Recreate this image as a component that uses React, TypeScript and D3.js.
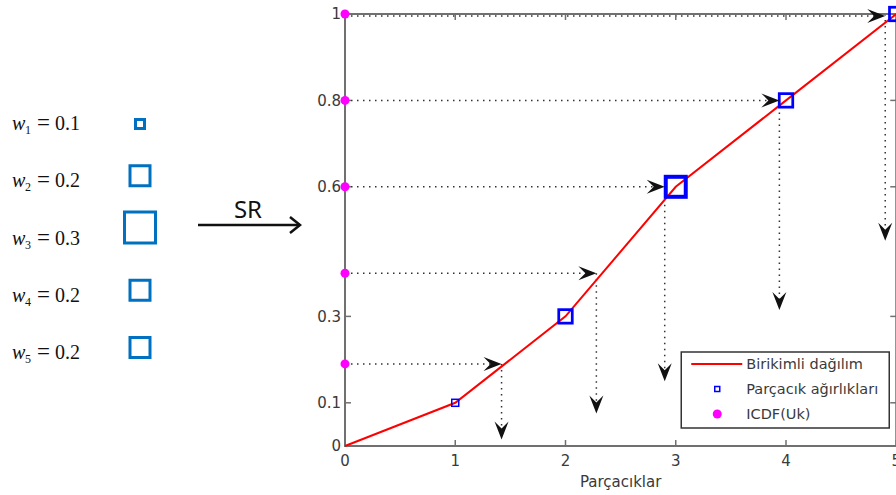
import React from "react";
import * as d3 from "d3";

// particle weights (left panel) and cumulative distribution
const weights = [0.1, 0.2, 0.3, 0.2, 0.2];
const weightLabels = ["0.1", "0.2", "0.3", "0.2", "0.2"];
const particles = [0, 1, 2, 3, 4, 5];
const cumulative = [0, 0.1, 0.3, 0.6, 0.8, 1];
// ICDF(Uk) samples and where their arrows drop
const icdf = [0.19, 0.4, 0.6, 0.8, 1];
const dropX = [1.42, 2.28, 2.9, 3.94, 4.9];
const dropEnd = [0.015, 0.075, 0.15, 0.315, 0.475];
const xTicks = [0, 1, 2, 3, 4, 5];
const yTicks = [0, 0.1, 0.3, 0.6, 0.8, 1];
const legendItems = ["Birikimli dağılım", "Parçacık ağırlıkları", "ICDF(Uk)"];
const xLabel = "Parçacıklar";
const arrowLabel = "SR";

const W = 896;
const H = 495;
const font = "'DejaVu Sans', sans-serif";
const txt = "#3a3a3a";

// MATLAB-like "vback2" arrow head
const arrowHead = (tx: number, ty: number, dx: number, dy: number) => {
  const L = 18, hw = 7, N = 11;
  const nx = -dy, ny = dx;
  const p = [
    [tx, ty],
    [tx - L * dx + hw * nx, ty - L * dy + hw * ny],
    [tx - N * dx, ty - N * dy],
    [tx - L * dx - hw * nx, ty - L * dy - hw * ny],
  ];
  return "M" + p.map((q) => q.join(",")).join("L") + "Z";
};

export default function App() {
  const x = d3.scaleLinear().domain([0, 5]).range([345, 896.25]);
  const y = d3.scaleLinear().domain([0, 1]).range([446, 14]);
  const mSize = d3.scaleLinear().domain([0.1, 0.3]).range([7, 20]);
  const mStroke = d3.scaleLinear().domain([0.1, 0.3]).range([1.5, 4]);
  const lSize = d3.scaleLinear().domain([0.1, 0.3]).range([9, 31]);
  const rows = d3.scalePoint<number>().domain(d3.range(weights.length)).range([130, 359]);

  const line = d3
    .line<number>()
    .x((_, i) => x(particles[i]))
    .y((d) => y(d));

  const left = x(0), right = x(5), top = y(1), bottom = y(0);
  const tick = 6;
  const lgW = 208, lgH = 76;
  const lgX = right - 7 - lgW, lgY = bottom - 18 - lgH;

  return (
    <svg
      width={W}
      height={H}
      style={{ position: "absolute", left: 0, top: 0, background: "#fff" }}
    >
      {/* left panel: weights */}
      {weights.map((w, i) => {
        const by = rows(i)!;
        const s = lSize(w);
        return (
          <g key={"w" + i}>
            <text y={by} fontFamily="'Liberation Serif', serif" fontSize={20} fill="#111">
              <tspan x={12} fontStyle="italic">w</tspan>
              <tspan x={25} dy={4} fontSize={12}>{i + 1}</tspan>
              <tspan x={37} dy={-4} fontSize={23}>=</tspan>
              <tspan x={55}>{weightLabels[i]}</tspan>
            </text>
            <rect
              x={140 - s / 2}
              y={by - 1.5 - s}
              width={s}
              height={s}
              fill="none"
              stroke="#0070C0"
              strokeWidth={3}
            />
          </g>
        );
      })}

      {/* SR arrow */}
      <text x={248} y={218} textAnchor="middle" fontFamily="'Noto Sans', sans-serif" fontSize={24} fill="#111">
        {arrowLabel}
      </text>
      <line x1={198} y1={225} x2={300} y2={225} stroke="#111" strokeWidth={2.5} />
      <path d="M290,217 L300,225 L290,233" fill="none" stroke="#111" strokeWidth={2.5} />

      {/* dotted guides */}
      {icdf.map((u, i) => (
        <g key={"g" + i}>
          <line
            x1={left}
            y1={y(u) + (i === icdf.length - 1 ? 2 : 0)}
            x2={x(dropX[i]) - 11}
            y2={y(u) + (i === icdf.length - 1 ? 2 : 0)}
            stroke="#333"
            strokeWidth={1.5}
            strokeDasharray="1.5 4.5"
          />
          <line
            x1={x(dropX[i])}
            y1={y(u)}
            x2={x(dropX[i])}
            y2={y(dropEnd[i]) - 11}
            stroke="#333"
            strokeWidth={1.5}
            strokeDasharray="1.5 4.5"
          />
        </g>
      ))}

      {/* axes box */}
      <rect x={left} y={top} width={right - left} height={bottom - top} fill="none" stroke="#707070" strokeWidth={2} />
      {xTicks.map((t) => (
        <g key={"xt" + t}>
          <line x1={x(t)} x2={x(t)} y1={bottom} y2={bottom - tick} stroke="#707070" strokeWidth={1.5} />
          <line x1={x(t)} x2={x(t)} y1={top} y2={top + tick} stroke="#707070" strokeWidth={1.5} />
          <text x={x(t)} y={466} textAnchor="middle" fontFamily={font} fontSize={15} fill={txt}>
            {t}
          </text>
        </g>
      ))}
      {yTicks.map((t) => (
        <g key={"yt" + t}>
          <line x1={left} x2={left + tick} y1={y(t)} y2={y(t)} stroke="#707070" strokeWidth={1.5} />
          <line x1={right} x2={right - tick} y1={y(t)} y2={y(t)} stroke="#707070" strokeWidth={1.5} />
          <text x={341} y={y(t)} dy="0.36em" textAnchor="end" fontFamily={font} fontSize={15} fill={txt}>
            {t}
          </text>
        </g>
      ))}
      <text x={(left + right) / 2} y={487} textAnchor="middle" fontFamily={font} fontSize={15} fill={txt}>
        {xLabel}
      </text>

      {/* cumulative line */}
      <path d={line(cumulative) || ""} fill="none" stroke="#ff0000" strokeWidth={2} />

      {/* particle weight markers */}
      {weights.map((w, i) => {
        const s = mSize(w);
        return (
          <rect
            key={"m" + i}
            x={x(particles[i + 1]) - s / 2}
            y={y(cumulative[i + 1]) - s / 2}
            width={s}
            height={s}
            fill="none"
            stroke="#0000ff"
            strokeWidth={mStroke(w)}
          />
        );
      })}

      {/* arrow heads */}
      {icdf.map((u, i) => (
        <g key={"a" + i} fill="#111">
          <path d={arrowHead(x(dropX[i]), y(u) + (i === icdf.length - 1 ? 2 : 0), 1, 0)} />
          <path d={arrowHead(x(dropX[i]), y(dropEnd[i]), 0, 1)} />
        </g>
      ))}

      {/* ICDF points */}
      {icdf.map((u, i) => (
        <circle key={"c" + i} cx={left} cy={y(u)} r={4.5} fill="#ff00ff" />
      ))}

      {/* legend */}
      <g transform={`translate(${lgX},${lgY})`}>
        <rect width={lgW} height={lgH} fill="#fff" stroke="#333" strokeWidth={1.5} />
        <line x1={10} x2={61} y1={12} y2={12} stroke="#ff0000" strokeWidth={2} />
        <rect x={33.5} y={34.5} width={5} height={5} fill="none" stroke="#0000ff" strokeWidth={1.5} />
        <circle cx={36} cy={62} r={4.5} fill="#ff00ff" />
        {legendItems.map((s, i) => (
          <text key={s} x={65} y={12 + i * 25} dy="0.36em" fontFamily={font} fontSize={14.5} fill={txt}>
            {s}
          </text>
        ))}
      </g>
    </svg>
  );
}
